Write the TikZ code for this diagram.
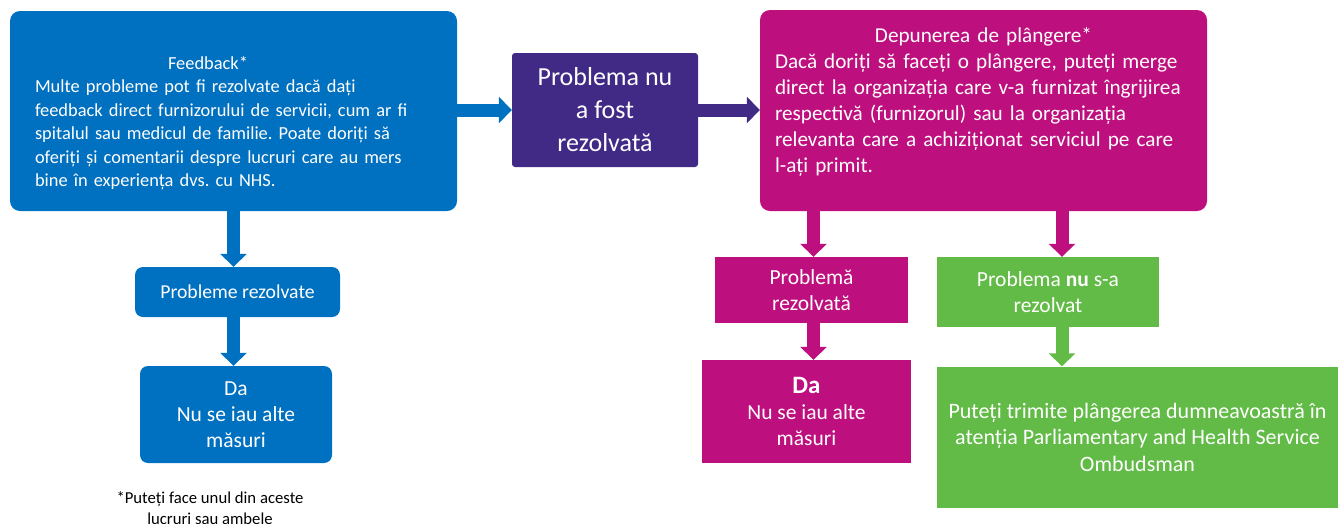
\documentclass[tikz,border=0pt]{standalone}
\usepackage{fontspec}
\setmainfont{Carlito}
\usetikzlibrary{arrows.meta,positioning}
\definecolor{nhsblue}{RGB}{0,112,192}
\definecolor{nhspurple}{RGB}{64,42,134}
\definecolor{nhsmagenta}{RGB}{190,15,126}
\definecolor{nhsgreen}{RGB}{98,187,70}
\frenchspacing

\begin{document}
\begin{tikzpicture}[x=1pt,y=-1pt,>={Triangle[width=26pt,length=13pt]},
  card/.style={text=white,inner sep=0pt,align=center,font=\fontsize{21.5}{26}\selectfont},
  big card/.style={card,minimum width=447pt,minimum height=200pt,rounded corners=10pt,align=left},
  shaft/.style={->,line width=13pt}]
  \useasboundingbox (0,0) rectangle (1338,523);
  % left branch
  \node[big card,fill=nhsblue,text width=397pt,font=\fontsize{18.4}{23.5}\selectfont] (fb) at (233.5,111)
    {\rule{0pt}{37pt}\makebox[346pt]{Feedback*}\\ Multe probleme pot fi rezolvate dacă dați\\ feedback direct furnizorului de servicii, cum ar fi\\
     spitalul sau medicul de familie. Poate doriți să\\ oferiți și comentarii despre lucruri care au mers\\ bine în experiența dvs. cu NHS.};
  \node[card,fill=nhsblue,rounded corners=8pt,minimum width=205pt,minimum height=50pt,font=\fontsize{19.7}{23}\selectfont] (pr1) at (237.5,292) {Probleme rezolvate};
  \node[card,fill=nhsblue,rounded corners=8pt,minimum width=192pt,minimum height=97pt] (da1) at (236,414.5) {Da\\ Nu se iau alte\\ măsuri};
  \node[font=\fontsize{16.7}{21}\selectfont,align=center,inner sep=0pt] (note) at (210,508) {*Puteți face unul din aceste\\ lucruri sau ambele};
  % middle
  \node[card,fill=nhspurple,rounded corners=3pt,minimum width=186pt,minimum height=114pt,font=\fontsize{26}{33}\selectfont] (prob) at (605,110)
    {Problema nu\\ a fost\\ rezolvată};
  % right branch
  \node[big card,fill=nhsmagenta,text width=417pt,minimum height=201pt,font=\fontsize{21.2}{26}\selectfont] (plg) at (983.5,110.5)
    {\makebox[417pt]{Depunerea de plângere*}\\ Dacă doriți să faceți o plângere, puteți merge\\ direct la organizația care v-a furnizat îngrijirea\\
     respectivă (furnizorul) sau la organizația\\ relevanta care a achiziționat serviciul pe care\\ l-ați primit.\\[-4pt] \mbox{}};
  \node[card,fill=nhsmagenta,minimum width=193pt,minimum height=66pt] (rez2) at (811.5,290) {Problemă\\ rezolvată};
  \node[card,fill=nhsmagenta,minimum width=209pt,minimum height=103pt] (da2) at (806.5,411.5)
    {{\fontsize{25}{28}\selectfont\bfseries Da}\\ Nu se iau alte\\ măsuri};
  \node[card,fill=nhsgreen,minimum width=222pt,minimum height=70pt] (nrez) at (1048,292) {Problema \textbf{nu} s-a\\ rezolvat};
  \node[card,fill=nhsgreen,minimum width=401pt,minimum height=141pt,font=\fontsize{22}{26.5}\selectfont] (ombud) at (1137.5,437)
    {Puteți trimite plângerea dumneavoastră în\\ atenția Parliamentary and Health Service\\ Ombudsman};
  % arrows
  \path (fb.east |- prob.west) edge[shaft,nhsblue] (prob.west)
        (fb.south) edge[shaft,nhsblue] (fb.south |- pr1.north)
        (pr1.south -| fb.south) edge[shaft,nhsblue] (fb.south |- da1.north)
        (prob.east) edge[shaft,nhspurple] (prob.east -| plg.west)
        ([xshift=2pt]rez2.north |- plg.south) edge[shaft,nhsmagenta] ([xshift=2pt]rez2.north)
        ([xshift=14pt]nrez.north |- plg.south) edge[shaft,nhsmagenta] ([xshift=14pt]nrez.north)
        ([xshift=2pt]rez2.south) edge[shaft,nhsmagenta] ([xshift=2pt]rez2.south |- da2.north)
        ([xshift=14pt]nrez.south) edge[shaft,nhsgreen] ([xshift=14pt]nrez.south |- ombud.north);
\end{tikzpicture}
\end{document}
